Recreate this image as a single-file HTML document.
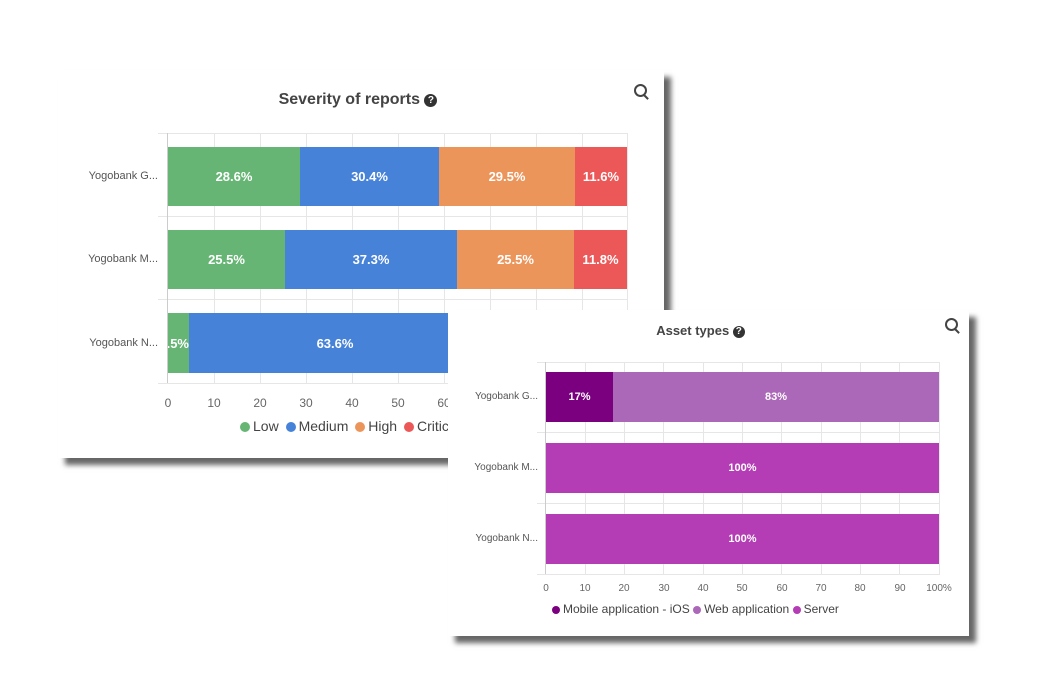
<!DOCTYPE html>
<html><head><meta charset="utf-8"><style>
body{margin:0;width:1040px;height:680px;background:#fff;position:relative;overflow:hidden;font-family:"Liberation Sans",sans-serif;}
.a{position:absolute;}
.card{position:absolute;background:#fff;box-shadow:7px 7px 5px rgba(0,0,0,0.6);}
.seg{position:absolute;color:#fff;font-weight:bold;font-size:13px;display:flex;align-items:center;justify-content:center;overflow:hidden;white-space:nowrap;}
.gl{position:absolute;width:1px;background:#e6e6e6;}
.hl{position:absolute;height:1px;background:#e6e6e6;}
.tk{position:absolute;font-size:12px;color:#666;transform:translateX(-50%);}
.yl{position:absolute;font-size:11px;color:#555;text-align:right;}
.q{display:inline-block;width:13px;height:13px;border-radius:50%;background:#333;color:#fff;font-size:10px;line-height:13px;text-align:center;font-weight:bold;vertical-align:1px;}
.dot{display:inline-block;width:10px;height:10px;border-radius:50%;margin-right:3px;vertical-align:-1px;}
.zi{position:absolute;width:9px;height:9px;border:2px solid #444;border-radius:50%;}
.zi:after{content:"";position:absolute;width:2px;height:6px;background:#444;left:9px;top:8px;transform:rotate(-45deg);}
</style></head><body>
<div class="card" style="left:58px;top:70px;width:606px;height:388px;"></div>
<div class="a" style="left:58px;top:91px;width:600px;text-align:center;font-size:16px;font-weight:bold;color:#444;">Severity of reports <span class="q">?</span></div>
<div class="zi" style="left:634px;top:84px;"></div>
<div class="hl" style="left:158px;top:133px;width:470px;"></div>
<div class="hl" style="left:158px;top:216px;width:470px;"></div>
<div class="hl" style="left:158px;top:299px;width:470px;"></div>
<div class="hl" style="left:158px;top:383px;width:470px;"></div>
<div class="gl" style="left:167px;top:133px;height:250px;background:#ccc;"></div>
<div class="gl" style="left:214px;top:133px;height:250px;"></div>
<div class="gl" style="left:260px;top:133px;height:250px;"></div>
<div class="gl" style="left:306px;top:133px;height:250px;"></div>
<div class="gl" style="left:352px;top:133px;height:250px;"></div>
<div class="gl" style="left:398px;top:133px;height:250px;"></div>
<div class="gl" style="left:444px;top:133px;height:250px;"></div>
<div class="gl" style="left:490px;top:133px;height:250px;"></div>
<div class="gl" style="left:536px;top:133px;height:250px;"></div>
<div class="gl" style="left:582px;top:133px;height:250px;"></div>
<div class="gl" style="left:627px;top:133px;height:250px;"></div>
<div class="yl" style="left:60px;top:170px;width:98px;">Yogobank G...</div>
<div class="yl" style="left:60px;top:253px;width:98px;">Yogobank M...</div>
<div class="yl" style="left:60px;top:337px;width:98px;">Yogobank N...</div>
<div class="seg" style="left:168px;top:147px;width:132px;height:59px;background:#66b574;">28.6%</div>
<div class="seg" style="left:300px;top:147px;width:139px;height:59px;background:#4682d8;">30.4%</div>
<div class="seg" style="left:439px;top:147px;width:136px;height:59px;background:#ec955b;">29.5%</div>
<div class="seg" style="left:575px;top:147px;width:52px;height:59px;background:#ec5757;">11.6%</div>
<div class="seg" style="left:168px;top:230px;width:117px;height:59px;background:#66b574;">25.5%</div>
<div class="seg" style="left:285px;top:230px;width:172px;height:59px;background:#4682d8;">37.3%</div>
<div class="seg" style="left:457px;top:230px;width:117px;height:59px;background:#ec955b;">25.5%</div>
<div class="seg" style="left:574px;top:230px;width:53px;height:59px;background:#ec5757;">11.8%</div>
<div class="seg" style="left:168px;top:313px;width:21px;height:60px;background:#66b574;justify-content:flex-end;">.5%</div>
<div class="seg" style="left:189px;top:313px;width:292px;height:60px;background:#4682d8;">63.6%</div>
<div class="tk" style="left:168px;top:396px;">0</div>
<div class="tk" style="left:214px;top:396px;">10</div>
<div class="tk" style="left:260px;top:396px;">20</div>
<div class="tk" style="left:306px;top:396px;">30</div>
<div class="tk" style="left:352px;top:396px;">40</div>
<div class="tk" style="left:398px;top:396px;">50</div>
<div class="tk" style="left:444px;top:396px;">60</div>
<div class="a" style="left:240px;top:418px;font-size:14px;color:#444;white-space:nowrap;"><span class="dot" style="background:#66b574"></span>Low <span class="dot" style="background:#4682d8;margin-left:3px"></span>Medium <span class="dot" style="background:#ec955b;margin-left:3px"></span>High <span class="dot" style="background:#ec5757;margin-left:3px"></span>Critical</div>

<div class="card" style="left:448px;top:310px;width:521px;height:326px;"></div>
<div class="a" style="left:448px;top:323px;width:505px;text-align:center;font-size:13px;font-weight:bold;color:#444;">Asset types <span class="q" style="width:12px;height:12px;line-height:12px">?</span></div>
<div class="zi" style="left:945px;top:318px;"></div>
<div class="hl" style="left:537px;top:362px;width:403px;"></div>
<div class="hl" style="left:537px;top:432px;width:403px;"></div>
<div class="hl" style="left:537px;top:503px;width:403px;"></div>
<div class="hl" style="left:537px;top:574px;width:403px;"></div>
<div class="gl" style="left:545px;top:362px;height:212px;background:#ccc;"></div>
<div class="gl" style="left:585px;top:362px;height:212px;"></div>
<div class="gl" style="left:624px;top:362px;height:212px;"></div>
<div class="gl" style="left:663px;top:362px;height:212px;"></div>
<div class="gl" style="left:703px;top:362px;height:212px;"></div>
<div class="gl" style="left:742px;top:362px;height:212px;"></div>
<div class="gl" style="left:781px;top:362px;height:212px;"></div>
<div class="gl" style="left:821px;top:362px;height:212px;"></div>
<div class="gl" style="left:860px;top:362px;height:212px;"></div>
<div class="gl" style="left:899px;top:362px;height:212px;"></div>
<div class="gl" style="left:939px;top:362px;height:212px;"></div>
<div class="yl" style="left:450px;top:391px;width:88px;font-size:10px;">Yogobank G...</div>
<div class="yl" style="left:450px;top:462px;width:88px;font-size:10px;">Yogobank M...</div>
<div class="yl" style="left:450px;top:533px;width:88px;font-size:10px;">Yogobank N...</div>
<div class="seg" style="left:546px;top:372px;width:67px;height:50px;background:#7a007f;font-size:11px;">17%</div>
<div class="seg" style="left:613px;top:372px;width:326px;height:50px;background:#ab67b8;font-size:11px;">83%</div>
<div class="seg" style="left:546px;top:443px;width:393px;height:50px;background:#b43cb5;font-size:11px;">100%</div>
<div class="seg" style="left:546px;top:514px;width:393px;height:50px;background:#b43cb5;font-size:11px;">100%</div>
<div class="tk" style="left:546px;top:583px;font-size:10px;">0</div>
<div class="tk" style="left:585px;top:583px;font-size:10px;">10</div>
<div class="tk" style="left:624px;top:583px;font-size:10px;">20</div>
<div class="tk" style="left:664px;top:583px;font-size:10px;">30</div>
<div class="tk" style="left:703px;top:583px;font-size:10px;">40</div>
<div class="tk" style="left:742px;top:583px;font-size:10px;">50</div>
<div class="tk" style="left:782px;top:583px;font-size:10px;">60</div>
<div class="tk" style="left:821px;top:583px;font-size:10px;">70</div>
<div class="tk" style="left:860px;top:583px;font-size:10px;">80</div>
<div class="tk" style="left:900px;top:583px;font-size:10px;">90</div>
<div class="tk" style="left:939px;top:583px;font-size:10px;">100%</div>
<div class="a" style="left:552px;top:602px;font-size:12px;color:#444;white-space:nowrap;"><span class="dot" style="background:#7a007f;width:8px;height:8px"></span>Mobile application - iOS <span class="dot" style="background:#ab67b8;width:8px;height:8px"></span>Web application <span class="dot" style="background:#b43cb5;width:8px;height:8px"></span>Server</div>
</body></html>
